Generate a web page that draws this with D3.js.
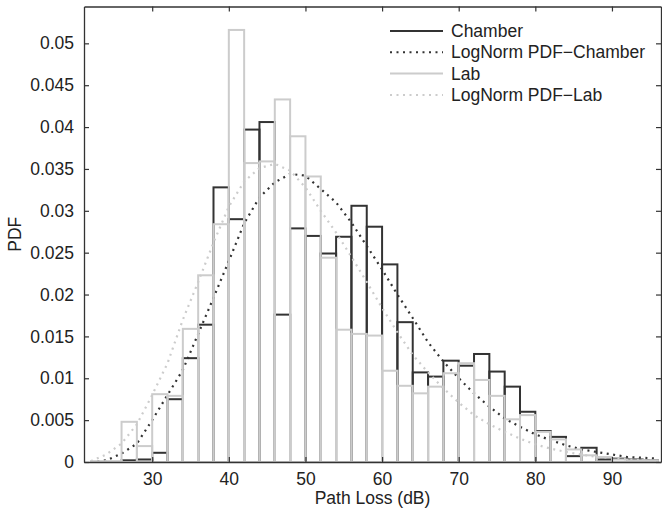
<!DOCTYPE html>
<html>
<head>
<meta charset="utf-8">
<script src="https://cdn.jsdelivr.net/npm/d3@7"></script>
<style>
    body { margin: 0; background: #fff; }
    #chart text { font-family: "Liberation Sans", Arial, sans-serif; fill: #222; }
</style>
</head>
<body>
<div id="chart"></div>
<script>
//Histogram bins (left edge, dB), each 2 dB wide
const binStarts = [22, 24, 26, 28, 30, 32, 34, 36, 38, 40, 42, 44, 46, 48, 50, 52, 54, 56, 58,
                   60, 62, 64, 66, 68, 70, 72, 74, 76, 78, 80, 82, 84, 86, 88, 90, 92, 94];

const chamberHist = [0, 0, 0.0002, 0.0003, 0.0011, 0.0075, 0.0124, 0.0164, 0.0328, 0.0290,
                     0.0397, 0.0406, 0.0176, 0.0279, 0.0270, 0.0249, 0.0269, 0.0306, 0.0281,
                     0.0236, 0.0167, 0.0107, 0.0102, 0.0121, 0.0115, 0.0129, 0.0108, 0.0090,
                     0.0060, 0.0037, 0.0030, 0.0007, 0.0017, 0.0003, 0.0004, 0.0003, 0.0002];

const labHist = [0.0001, 0.0001, 0.0048, 0.0019, 0.0081, 0.0079, 0.0159, 0.0223, 0.0284, 0.0516,
                 0.0357, 0.0359, 0.0433, 0.0389, 0.0341, 0.0244, 0.0158, 0.0153, 0.0151,
                 0.0109, 0.0091, 0.0082, 0.0090, 0.0106, 0.0118, 0.0098, 0.0079, 0.0051,
                 0.0056, 0.0036, 0.0027, 0.0015, 0.0008, 0.0006, 0.0003, 0.0002, 0.0002];

//Fitted lognormal curves
const curveX = [22, 24, 26, 28, 30, 32, 34, 36, 38, 40, 42, 44, 46, 48, 50, 52, 54, 56, 58, 60,
                62, 64, 66, 68, 70, 72, 74, 76, 78, 80, 82, 84, 86, 88, 90, 92, 94, 96];

const chamberFit = [0.0000, 0.0002, 0.0010, 0.0022, 0.0050, 0.0080, 0.0110, 0.0153, 0.0196, 0.0240,
                    0.0285, 0.0316, 0.0334, 0.0344, 0.0342, 0.0326, 0.0310, 0.0286, 0.0258, 0.0230,
                    0.0200, 0.0172, 0.0143, 0.0120, 0.0100, 0.0082, 0.0066, 0.0052, 0.0042, 0.0033,
                    0.0026, 0.0020, 0.0015, 0.0012, 0.0009, 0.0006, 0.0005, 0.0004];

const labFit = [0.0001, 0.0009, 0.0022, 0.0045, 0.0080, 0.0118, 0.0170, 0.0215, 0.0262, 0.0305,
                0.0335, 0.0351, 0.0356, 0.0348, 0.0328, 0.0300, 0.0274, 0.0245, 0.0215, 0.0184,
                0.0155, 0.0128, 0.0107, 0.0088, 0.0071, 0.0056, 0.0045, 0.0036, 0.0028, 0.0021,
                0.0016, 0.0012, 0.0009, 0.0006, 0.0005, 0.0003, 0.0002, 0.0001];

const xTicks = [30, 40, 50, 60, 70, 80, 90];
const yTicks = [0, 0.005, 0.01, 0.015, 0.02, 0.025, 0.03, 0.035, 0.04, 0.045, 0.05];
const yTickLabels = ["0", "0.005", "0.01", "0.015", "0.02", "0.025", "0.03", "0.035", "0.04", "0.045", "0.05"];

const legendNames = ["Chamber", "LogNorm PDF\u2212Chamber", "Lab", "LogNorm PDF\u2212Lab"];

function init(){

    const width = 662;
    const height = 512;

    const dark = "#333333";
    const light = "#cccccc";
    const fontSize = "17.5px";

    const svg = d3.select("#chart")
                .append("svg")
                .attr("width", width)
                .attr("height", height);

    const x = d3.scaleLinear()
                .domain([21.1, 96.4])
                .range([84, 661]);

    const y = d3.scaleLinear()
                .domain([0, 0.0544])
                .range([462, 6.5]);

    const binWidth = 2;

    function drawHist(values, colour) {
        svg.append("g")
            .selectAll("rect")
            .data(binStarts)
            .enter().append("rect")
            .attr("x", d => x(d))
            .attr("y", (d, i) => y(values[i]))
            .attr("width", d => x(d + binWidth) - x(d))
            .attr("height", (d, i) => y(0) - y(values[i]))
            .attr("fill", "none")
            .attr("stroke", colour)
            .attr("stroke-width", 2);
    }

    const line = d3.line()
                .x(d => x(d[0]))
                .y(d => y(d[1]));

    function drawFit(values, colour) {
        svg.append("path")
            .datum(curveX.map((d, i) => [d, values[i]]))
            .attr("d", line)
            .attr("fill", "none")
            .attr("stroke", colour)
            .attr("stroke-width", 2.2)
            .attr("stroke-dasharray", "2,4.5");
    }

    //Plot order follows the legend
    drawHist(chamberHist, dark);
    drawFit(chamberFit, dark);
    drawHist(labHist, light);
    drawFit(labFit, light);

    //Axes, ticks pointing inward like the original
    const bottom = svg.append("g")
                    .attr("transform", `translate(0,${y(0)})`)
                    .call(d3.axisBottom(x).tickValues(xTicks).tickSize(-5).tickPadding(9).tickSizeOuter(0));

    const top = svg.append("g")
                    .attr("transform", `translate(0,${y.range()[1]})`)
                    .call(d3.axisTop(x).tickValues(xTicks).tickSize(-5).tickFormat("").tickSizeOuter(0));

    const left = svg.append("g")
                    .attr("transform", `translate(${x.range()[0]},0)`)
                    .call(d3.axisLeft(y).tickValues(yTicks).tickSize(-5).tickPadding(10).tickSizeOuter(0)
                        .tickFormat((d, i) => yTickLabels[i]));

    const right = svg.append("g")
                    .attr("transform", `translate(${x.range()[1]},0)`)
                    .call(d3.axisRight(y).tickValues(yTicks).tickSize(-5).tickFormat("").tickSizeOuter(0));

    [bottom, top, left, right].forEach(g => {
        g.selectAll(".domain").attr("stroke", dark).attr("stroke-width", 1.3);
        g.selectAll(".tick line").attr("stroke", dark).attr("stroke-width", 1.2);
        g.selectAll("text").attr("font-size", fontSize).attr("fill", "#222");
    });

    bottom.selectAll("text").attr("dy", "0.8em");

    //Axis labels
    svg.append("text")
        .attr("x", (x.range()[0] + x.range()[1]) / 2)
        .attr("y", 504)
        .attr("text-anchor", "middle")
        .attr("font-size", fontSize)
        .text("Path Loss (dB)");

    svg.append("text")
        .attr("transform", `translate(21,${(y.range()[0] + y.range()[1]) / 2}) rotate(-90)`)
        .attr("text-anchor", "middle")
        .attr("font-size", fontSize)
        .text("PDF");

    //Legend (no box)
    const legend = svg.append("g")
                    .attr("transform", "translate(390,31)");

    const legendStyles = [
        {colour: dark, dash: null},
        {colour: dark, dash: "2,4.5"},
        {colour: light, dash: null},
        {colour: light, dash: "2,4.5"}
    ];

    legendNames.forEach((name, i) => {
        const row = legend.append("g")
                        .attr("transform", `translate(0,${i * 21.3})`);

        row.append("line")
            .attr("x1", 0)
            .attr("x2", 53)
            .attr("y1", 0)
            .attr("y2", 0)
            .attr("stroke", legendStyles[i].colour)
            .attr("stroke-width", 2)
            .attr("stroke-dasharray", legendStyles[i].dash);

        row.append("text")
            .attr("x", 61)
            .attr("y", 0)
            .attr("dy", "0.35em")
            .attr("font-size", fontSize)
            .text(name);
    });

}
window.onload = init;
</script>
</body>
</html>
